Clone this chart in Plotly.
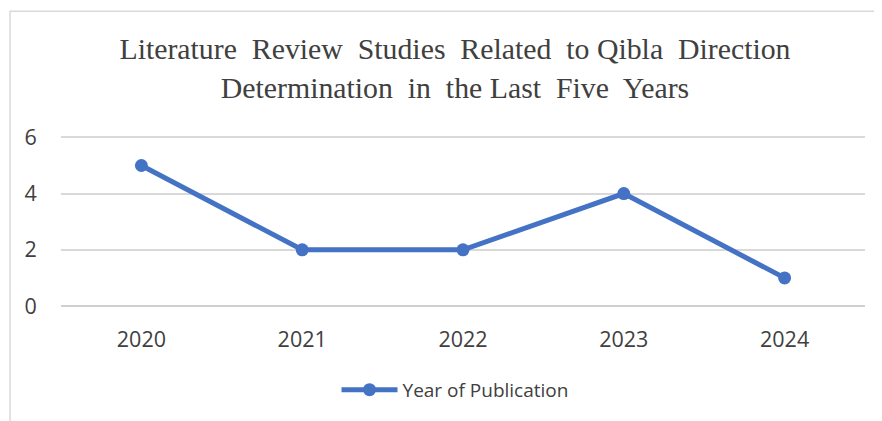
import plotly.graph_objects as go

years = ["2020", "2021", "2022", "2023", "2024"]
counts = [5, 2, 2, 4, 1]
y_ticks = [0, 2, 4, 6]
series_name = "Year of Publication"
title_text = "Literature&nbsp; Review&nbsp; Studies&nbsp; Related&nbsp; to Qibla&nbsp; Direction<br>Determination&nbsp; in&nbsp; the Last&nbsp; Five&nbsp; Years"

OFF = 8  # page body margin
W, H = 882 - OFF, 421 - OFF
# plot area in screenshot pixels
px0, px1 = 60.5, 865.5
py_top6, py0 = 137, 306
ymax = 6.12
unit = (py0 - py_top6) / 6
py_top = py0 - ymax * unit
L = px0 - OFF
R = W - (px1 - OFF)
T = py_top - OFF
B = H - (py0 - OFF)
pw = px1 - px0
ph = py0 - py_top

fig = go.Figure()
fig.add_trace(go.Scatter(
    x=years, y=counts, mode="lines+markers", name=series_name,
    line=dict(color="#4472C4", width=5),
    marker=dict(color="#4472C4", size=13),
))

fig.update_layout(
    width=W, height=H,
    margin=dict(l=L, r=R, t=T, b=B, pad=0, autoexpand=False),
    paper_bgcolor="white", plot_bgcolor="white",
    font=dict(family="Open Sans", size=21.5, color="#404040"),
    title=dict(
        text=title_text,
        font=dict(family="Liberation Serif", size=29.8, color="#404040"),
        x=(455 - OFF) / W, xanchor="center", xref="container",
        y=1 - (59 - OFF) / H, yanchor="middle", yref="container",
    ),
    showlegend=True,
    legend=dict(
        orientation="h", x=(455 - px0) / pw, xanchor="center",
        y=(py0 - 390) / ph, yanchor="middle",
        font=dict(family="Open Sans", size=19, color="#404040"),
        itemwidth=56, bgcolor="rgba(0,0,0,0)",
    ),
    xaxis=dict(
        type="category", range=[-0.5, 4.5], showgrid=False, zeroline=False,
        showline=False, ticks="outside", ticklen=14, tickcolor="rgba(0,0,0,0)",
    ),
    yaxis=dict(
        range=[0, ymax], tickvals=y_ticks, showgrid=True, gridcolor="#d9d9d9",
        gridwidth=1.5, zeroline=True, zerolinecolor="#d0d0d0", zerolinewidth=1.5,
        showline=False, ticks="outside", ticklen=19, tickcolor="rgba(0,0,0,0)",
    ),
    shapes=[
        dict(type="rect", xref="paper", yref="paper",
             x0=(9.5 - px0) / pw, x1=1.2, y0=-1.2, y1=(py0 - 10.5) / ph,
             line=dict(color="#d9d9d9", width=1.5), layer="below"),
    ],
)

fig.write_html("out.html")
